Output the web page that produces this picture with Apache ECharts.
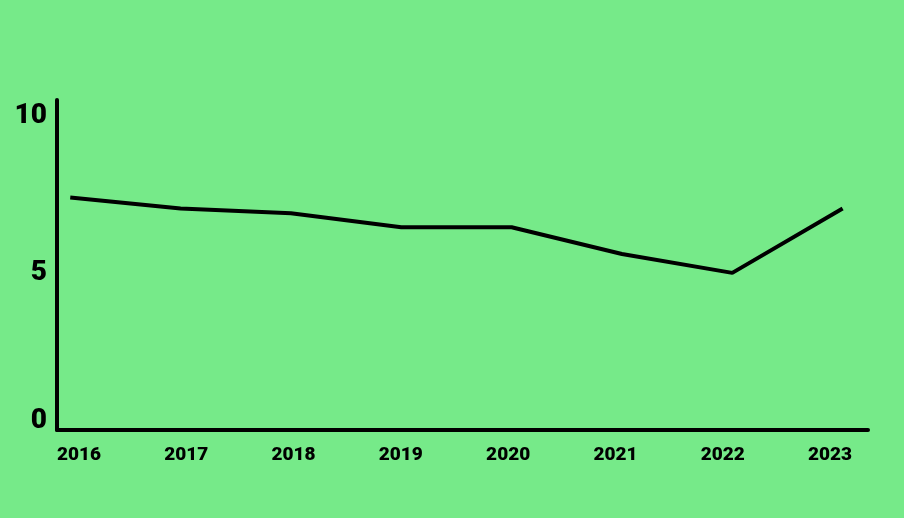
<!DOCTYPE html>
<html>
<head>
<meta charset="utf-8">
<script src="https://cdn.jsdelivr.net/npm/echarts@6/dist/echarts.min.js"></script>
<style>
  html, body { margin: 0; padding: 0; background: #76ea89; }
  #chart { width: 904px; height: 518px; }
</style>
</head>
<body>
<div id="chart"></div>
<script>
// years and values
var years = [2016, 2017, 2018, 2019, 2020, 2021, 2022, 2023];
var values = [7.4, 7.05, 6.9, 6.45, 6.45, 5.6, 5.0, 7.05];
var yTicks = [0, 5, 10];

var chart = echarts.init(document.getElementById("chart"));
var points = years.map(function (y, i) { return [y, values[i]]; });

var option = {
  backgroundColor: "#76ea89",
  animation: false,
  grid: [
    { left: 57, right: 36, top: 100, bottom: 88 },
    // only for the year labels
    { left: 79, right: 74, top: 100, bottom: 88 }
  ],
  xAxis: [
    {
      type: "value",
      gridIndex: 0,
      min: 2015.88,
      max: 2023.23,
      axisLine: { show: true, onZero: false, lineStyle: { color: "#000", width: 4 } },
      axisTick: { show: false },
      axisLabel: { show: false },
      splitLine: { show: false }
    },
    {
      type: "category",
      gridIndex: 1,
      data: years,
      boundaryGap: false,
      axisLine: { show: false },
      axisTick: { show: false },
      axisLabel: {
        margin: 16,
        color: "#000",
        fontFamily: "Roboto",
        fontWeight: 900,
        fontSize: 19
      }
    }
  ],
  yAxis: [
    {
      type: "value",
      gridIndex: 0,
      min: 0,
      max: 10.5,
      interval: 5,
      axisLine: { show: true, lineStyle: { color: "#000", width: 4 } },
      axisTick: { show: false },
      splitLine: { show: false },
      axisLabel: {
        margin: 10,
        color: "#000",
        fontFamily: "Roboto",
        fontWeight: 900,
        fontSize: 28,
        formatter: function (v) {
          if (yTicks.indexOf(v) < 0) return "";
          return v === 0 ? "{z|0}" : String(v);
        },
        rich: {
          z: { fontFamily: "Roboto", fontWeight: 900, fontSize: 28, color: "#000", padding: [0, 0, 18, 0] }
        }
      }
    },
    {
      type: "value",
      gridIndex: 1,
      show: false
    }
  ],
  series: [
    {
      type: "line",
      xAxisIndex: 0,
      yAxisIndex: 0,
      data: points,
      symbol: "none",
      lineStyle: { color: "#000", width: 4 }
    }
  ]
};
chart.setOption(option);
</script>
</body>
</html>
